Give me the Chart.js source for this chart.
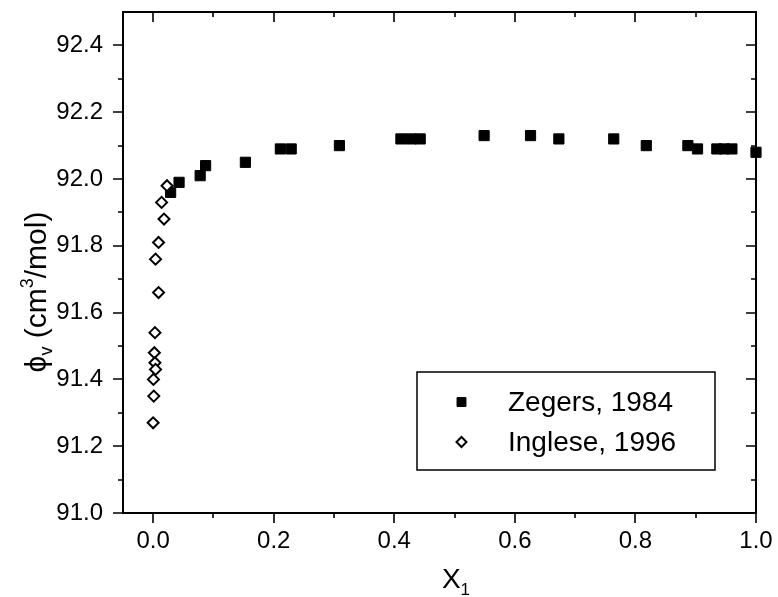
<!DOCTYPE html>
<html><head><meta charset="utf-8">
<script src="https://cdn.jsdelivr.net/npm/chart.js@4/dist/chart.umd.min.js"></script>
<style>html,body{margin:0;padding:0;background:#fff;} canvas{display:block;}</style>
</head><body>
<canvas id="c" width="778" height="597"></canvas>
<script>
// ---- data ----
const zegersLabel = 'Zegers, 1984';
const zegersX = [0.029, 0.043, 0.078, 0.087, 0.153, 0.211, 0.229, 0.309, 0.411, 0.428, 0.443, 0.549, 0.626, 0.673, 0.764, 0.818, 0.887, 0.903, 0.935, 0.947, 0.960, 1.000];
const zegersY = [91.96, 91.99, 92.01, 92.04, 92.05, 92.09, 92.09, 92.10, 92.12, 92.12, 92.12, 92.13, 92.13, 92.12, 92.12, 92.10, 92.10, 92.09, 92.09, 92.09, 92.09, 92.08];
const ingleseLabel = 'Inglese, 1996';
const ingleseX = [0.023, 0.014, 0.018, 0.009, 0.004, 0.009, 0.003, 0.002, 0.003, 0.004, 0.0005, 0.001, 0.000];
const ingleseY = [91.98, 91.93, 91.88, 91.81, 91.76, 91.66, 91.54, 91.48, 91.45, 91.43, 91.40, 91.35, 91.27];
const xMajorTicks = [0.0, 0.2, 0.4, 0.6, 0.8, 1.0];
const xMinorTicks = [0.1, 0.3, 0.5, 0.7, 0.9];
const yMajorTicks = [91.0, 91.2, 91.4, 91.6, 91.8, 92.0, 92.2, 92.4];
const yMinorTicks = [91.1, 91.3, 91.5, 91.7, 91.9, 92.1, 92.3];
const xRange = [-0.05, 1.0];
const yRange = [91.0, 92.5];

const FONT = '"Liberation Sans", Arial, Helvetica, sans-serif';

const framePlugin = {
  id: 'frame',
  beforeDatasetsDraw(chart) {
    const {ctx, chartArea: a, scales: {x, y}} = chart;
    ctx.save();
    ctx.strokeStyle = '#000';
    ctx.lineWidth = 2;
    ctx.strokeRect(a.left, a.top, a.right - a.left, a.bottom - a.top);
    ctx.lineWidth = 1.6;
    ctx.beginPath();
    const xt = (vals, len) => vals.forEach(v => {
      const p = Math.round(x.getPixelForValue(v));
      ctx.moveTo(p, a.bottom); ctx.lineTo(p, a.bottom + len);
      ctx.moveTo(p, a.top); ctx.lineTo(p, a.top + len);
    });
    const yt = (vals, len) => vals.forEach(v => {
      const p = Math.round(y.getPixelForValue(v));
      ctx.moveTo(a.left, p); ctx.lineTo(a.left - len, p);
      ctx.moveTo(a.right, p); ctx.lineTo(a.right - len, p);
    });
    xt(xMajorTicks, 10); xt(xMinorTicks, 5);
    yt(yMajorTicks, 10); yt(yMinorTicks, 5);
    ctx.stroke();
    ctx.restore();
  },
  afterDatasetsDraw(chart) {
    const {ctx} = chart;
    ctx.save();
    ctx.fillStyle = '#000';
    const drawSegs = (segs, cx, baseY) => {
      let w = 0;
      segs.forEach(g => { ctx.font = g.s + 'px ' + FONT; g.w = ctx.measureText(g.t).width; w += g.w; });
      let xx = cx - w / 2;
      ctx.textBaseline = 'alphabetic';
      ctx.textAlign = 'left';
      segs.forEach(g => { ctx.font = g.s + 'px ' + FONT; ctx.fillText(g.t, xx, baseY + g.dy); xx += g.w; });
    };
    // y title with subscript / superscript
    ctx.save();
    ctx.translate(46, 292);
    ctx.rotate(-Math.PI / 2);
    drawSegs([
      {t: '\u03D5', s: 30, dy: 0},
      {t: 'v', s: 18, dy: 6},
      {t: ' (cm', s: 30, dy: 0},
      {t: '3', s: 18, dy: -13},
      {t: '/mol)', s: 30, dy: 0}
    ], 0, 0);
    ctx.restore();
    // x title
    drawSegs([{t: 'X', s: 28, dy: 0}, {t: '1', s: 17, dy: 7}], 456, 588);

    // legend box
    const lx = 417, ly = 372, lw = 298, lh = 98;
    ctx.lineWidth = 1.5;
    ctx.strokeStyle = '#000';
    ctx.strokeRect(lx, ly, lw, lh);
    chart.data.datasets.forEach((ds, i) => {
      const cy = 402 + i * 40;
      ctx.fillStyle = ds.backgroundColor;
      ctx.strokeStyle = ds.borderColor;
      ctx.lineWidth = ds.borderWidth;
      Chart.helpers.drawPoint(ctx, {pointStyle: ds.pointStyle, radius: ds.legendRadius, rotation: 0, borderWidth: ds.borderWidth}, 461.5, cy);
      ctx.fillStyle = '#000';
      ctx.font = '28px ' + FONT;
      ctx.textAlign = 'left';
      ctx.textBaseline = 'middle';
      ctx.fillText(ds.label, 508, cy + 1);
    });
    ctx.restore();
  }
};

new Chart(document.getElementById('c'), {
  type: 'scatter',
  data: {
    datasets: [
      {
        label: zegersLabel,
        data: zegersX.map((v, i) => ({x: v, y: zegersY[i]})),
        pointStyle: 'rect', pointRadius: 7.2, legendRadius: 6.3,
        backgroundColor: '#000', borderColor: '#000', borderWidth: 1,
        order: 1, clip: false
      },
      {
        label: ingleseLabel,
        data: ingleseX.map((v, i) => ({x: v, y: ingleseY[i]})),
        pointStyle: 'rectRot', pointRadius: 5.5, legendRadius: 5,
        backgroundColor: '#fff', borderColor: '#000', borderWidth: 2,
        order: 0, clip: false
      }
    ]
  },
  options: {
    responsive: false,
    animation: false,
    devicePixelRatio: 1,
    layout: {padding: {left: 0, top: 12, right: 22, bottom: 0}},
    plugins: {legend: {display: false}, tooltip: {enabled: false}},
    scales: {
      x: {
        type: 'linear', min: xRange[0], max: xRange[1],
        afterBuildTicks: s => { s.ticks = xMajorTicks.map(v => ({value: v})); },
        afterFit: s => { s.height = 84; s.paddingLeft = 0; s.paddingRight = 0; },
        grid: {display: false, drawTicks: false},
        border: {display: false},
        ticks: {color: '#000', font: {family: FONT, size: 24}, padding: 14, maxRotation: 0, autoSkip: false,
                callback: v => Number(v).toFixed(1)}
      },
      y: {
        type: 'linear', min: yRange[0], max: yRange[1],
        afterBuildTicks: s => { s.ticks = yMajorTicks.map(v => ({value: v})); },
        afterFit: s => { s.width = 123; s.paddingTop = 0; s.paddingBottom = 0; },
        grid: {display: false, drawTicks: false},
        border: {display: false},
        ticks: {color: '#000', font: {family: FONT, size: 24}, padding: 20, autoSkip: false,
                callback: v => Number(v).toFixed(1)}
      }
    }
  },
  plugins: [framePlugin]
});
</script>
</body></html>
